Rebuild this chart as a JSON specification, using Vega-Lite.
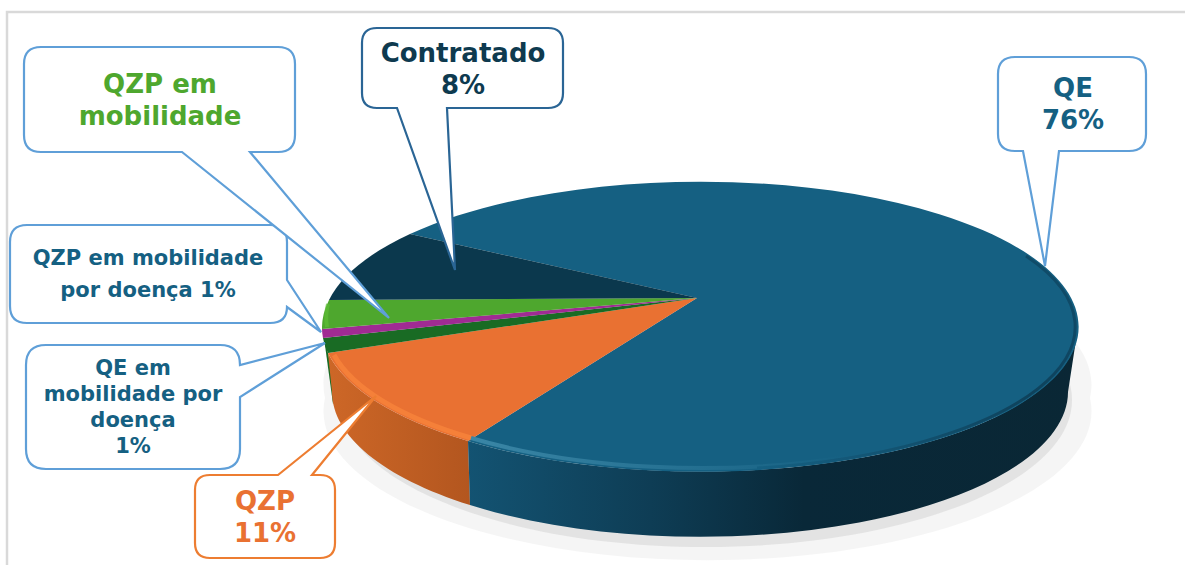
{
"$schema":"https://vega.github.io/schema/vega-lite/v6.json",
"width":1186,"height":566,"padding":0,
"autosize":{"type":"fit","contains":"padding"},
"background":"white",
"config":{"view":{"stroke":null}},
"data":{"values":[
{"ordem":1,"categoria":"QE","pct":76,"rotulo":"QE\n76%"},
{"ordem":2,"categoria":"QZP","pct":11,"rotulo":"QZP\n11%"},
{"ordem":3,"categoria":"QE em mobilidade por doença","pct":1,"rotulo":"QE em\nmobilidade por\ndoença\n1%"},
{"ordem":4,"categoria":"QZP em mobilidade por doença","pct":1,"rotulo":"QZP em mobilidade\npor doença 1%"},
{"ordem":5,"categoria":"QZP em mobilidade","pct":3,"rotulo":"QZP em\nmobilidade"},
{"ordem":6,"categoria":"Contratado","pct":8,"rotulo":"Contratado\n8%"}
]},
"encoding":{
"x":{"field":"ordem","type":"quantitative","axis":null,"scale":{"domain":[1,6],"range":[697,697],"nice":false,"zero":false}},
"y":{"field":"ordem","type":"quantitative","axis":null,"scale":{"domain":[1,6],"range":[298,298],"nice":false,"zero":false}}
},
"layer":[
{"transform":[{"filter":"datum.ordem==1"}],"mark":{"type":"point","filled":false,"size":4,"opacity":1,"stroke":"#d9d9d9","strokeWidth":2.5,"shape":"M-690,267 V-286 H488"}},
{"transform":[{"filter":"datum.ordem==1"}],"mark":{"type":"point","filled":true,"size":4,"opacity":0.4,"fill":"#e6e6e6","strokeWidth":0,"shape":"M-372,100 A384,149 0 1 0 393,100 A384,149 0 1 0 -372,100 Z"}},
{"transform":[{"filter":"datum.ordem==1"}],"mark":{"type":"point","filled":true,"size":4,"opacity":0.7,"fill":"#dcdcdc","strokeWidth":0,"shape":"M-357,102 A366,147 0 1 0 375,102 A366,147 0 1 0 -357,102 Z"}},
{"transform":[{"filter":"datum.ordem==3"}],"mark":{"type":"point","filled":true,"size":4,"opacity":1,"fill":"#196b24","strokeWidth":0,"shape":"M-373,40 L-364,106 L-360,100 L-369,55 Z"}},
{"transform":[{"filter":"datum.ordem==2"}],"mark":{"type":"point","filled":true,"size":4,"opacity":1,"strokeWidth":0,"fill":{"gradient":"linear","x1":0,"y1":0,"x2":1,"y2":0,"stops":[{"offset":0,"color":"#cd6727"},{"offset":1,"color":"#b3561f"}]},"shape":"M-369,55 A378,145 0 0 0 -229,143 L-227,207 A368,145 0 0 1 -365,94 Z"}},
{"transform":[{"filter":"datum.ordem==1"}],"mark":{"type":"point","filled":true,"size":4,"opacity":1,"strokeWidth":0,"fill":{"gradient":"linear","x1":0,"y1":0,"x2":1,"y2":0,"stops":[{"offset":0,"color":"#135372"},{"offset":0.3,"color":"#0e3d55"},{"offset":0.55,"color":"#092838"},{"offset":1,"color":"#0a2735"}]},"shape":"M-229,143 A378,145 0 0 0 381,29 L371,94 A368,145 0 0 1 -227,207 Z"}},
{"mark":{"type":"point","filled":true,"size":4,"opacity":1,"strokeWidth":0},
 "encoding":{
  "shape":{"field":"categoria","type":"nominal","legend":null,"scale":{"domain":["QE","QZP","QE em mobilidade por doença","QZP em mobilidade por doença","QZP em mobilidade","Contratado"],"range":[
   "M0,0 L-287,-64 A378,145 0 1 1 -229,143 Z",
   "M0,0 L-229,143 A378,145 0 0 1 -369,55 Z",
   "M0,0 L-369,55 A378,145 0 0 1 -374,40 Z",
   "M0,0 L-374,40 A378,145 0 0 1 -375,31 Z",
   "M0,0 L-375,31 A378,145 0 0 1 -368,2 Z",
   "M0,0 L-368,2 A378,145 0 0 1 -287,-64 Z"]}},
  "color":{"field":"categoria","type":"nominal","legend":null,"scale":{"domain":["QE","QZP","QE em mobilidade por doença","QZP em mobilidade por doença","QZP em mobilidade","Contratado"],"range":["#156082","#e97132","#196b24","#a02b93","#4ea72e","#0b384d"]}}
 }},
{"transform":[{"filter":"datum.ordem==2"}],"mark":{"type":"point","filled":false,"size":4,"opacity":0.75,"stroke":"#f9853c","strokeWidth":5,"shape":"M-363,57 A374,141 0 0 0 -226,140"}},
{"transform":[{"filter":"datum.ordem==5"}],"mark":{"type":"point","filled":false,"size":4,"opacity":0.7,"stroke":"#5fbe36","strokeWidth":4,"shape":"M-369,6 A372,139 0 0 0 -370,29"}},
{"transform":[{"filter":"datum.ordem==1"}],"mark":{"type":"point","filled":false,"size":4,"opacity":1,"strokeWidth":4,"stroke":{"gradient":"linear","x1":0,"y1":0,"x2":1,"y2":0,"stops":[{"offset":0,"color":"#3a86a6"},{"offset":1,"color":"#156082"}]},"shape":"M-226,140 A374,141 0 0 0 150,159"}},
{"transform":[{"filter":"datum.ordem==1"}],"mark":{"type":"point","filled":false,"size":4,"opacity":0.9,"strokeWidth":3,"stroke":{"gradient":"linear","x1":0,"y1":1,"x2":1,"y2":0,"stops":[{"offset":0,"color":"#156082"},{"offset":0.6,"color":"#0e3f58"},{"offset":1,"color":"#104c6a"}]},"shape":"M329,-42 A376,143 0 0 1 60,170"}},
{"mark":{"type":"point","filled":true,"fill":"white","size":4,"opacity":1,"strokeWidth":2.2},
 "encoding":{
  "x":{"field":"ordem","type":"quantitative","axis":null,"scale":{"domain":[1,2,3,4,5,6],"range":[1073,265,133,148,160,463],"nice":false,"zero":false}},
  "y":{"field":"ordem","type":"quantitative","axis":null,"scale":{"domain":[1,2,3,4,5,6],"range":[97,510,375,265,93,62],"nice":false,"zero":false}},
  "shape":{"field":"categoria","type":"nominal","legend":null,"scale":{"domain":["QE","QZP","QE em mobilidade por doença","QZP em mobilidade por doença","QZP em mobilidade","Contratado"],"range":[
   "M-58,-40 H56 Q73,-40 73,-23 V37 Q73,54 56,54 H-14 L-28,169 L-50,54 H-58 Q-75,54 -75,37 V-23 Q-75,-40 -58,-40 Z",
   "M-55,-35 H13 L111,-114 L47,-35 H55 Q70,-35 70,-20 V33 Q70,48 55,48 H-55 Q-70,48 -70,33 V-20 Q-70,-35 -55,-35 Z",
   "M-87,-30 H87 Q107,-30 107,-10 L192,-32 L107,22 V74 Q107,94 87,94 H-87 Q-107,94 -107,74 V-10 Q-107,-30 -87,-30 Z",
   "M-121,-40 H122 Q139,-40 139,-23 V15 L173,67 L139,42 Q139,58 122,58 H-121 Q-138,58 -138,41 V-23 Q-138,-40 -121,-40 Z",
   "M-119,-46 H118 Q135,-46 135,-29 V42 Q135,59 118,59 H90 L229,225 L22,59 H-119 Q-136,59 -136,42 V-29 Q-136,-46 -119,-46 Z",
   "M-86,-34 H85 Q100,-34 100,-19 V31 Q100,46 85,46 H-16 L-8,208 L-66,46 H-86 Q-101,46 -101,31 V-19 Q-101,-34 -86,-34 Z"]}},
  "stroke":{"field":"categoria","type":"nominal","legend":null,"scale":{"domain":["QE","QZP","QE em mobilidade por doença","QZP em mobilidade por doença","QZP em mobilidade","Contratado"],"range":["#5f9fd8","#ed7d31","#5f9fd8","#5f9fd8","#5f9fd8","#2a6595"]}}
 }},
{"transform":[{"filter":"datum.ordem==1||datum.ordem==2||datum.ordem==5||datum.ordem==6"}],
 "mark":{"type":"text","font":"DejaVu Sans","fontWeight":"bold","fontSize":26,"lineHeight":32,"lineBreak":"\n","align":"center","baseline":"alphabetic"},
 "encoding":{
  "x":{"field":"ordem","type":"quantitative","axis":null,"scale":{"domain":[1,2,3,4,5,6],"range":[1073,265,133,148,160,463],"nice":false,"zero":false}},
  "y":{"field":"ordem","type":"quantitative","axis":null,"scale":{"domain":[1,2,3,4,5,6],"range":[97,510,375,265,93,62],"nice":false,"zero":false}},
  "text":{"field":"rotulo"},
  "fill":{"field":"categoria","type":"nominal","legend":null,"scale":{"domain":["QE","QZP","QE em mobilidade por doença","QZP em mobilidade por doença","QZP em mobilidade","Contratado"],"range":["#156082","#e97132","#156082","#156082","#4ea72e","#0e3a4f"]}}
 }},
{"transform":[{"filter":"datum.ordem==4"}],
 "mark":{"type":"text","font":"DejaVu Sans","fontWeight":"bold","fontSize":21,"lineHeight":32,"lineBreak":"\n","align":"center","baseline":"alphabetic","fill":"#156082"},
 "encoding":{
  "x":{"field":"ordem","type":"quantitative","axis":null,"scale":{"domain":[1,2,3,4,5,6],"range":[1073,265,133,148,160,463],"nice":false,"zero":false}},
  "y":{"field":"ordem","type":"quantitative","axis":null,"scale":{"domain":[1,2,3,4,5,6],"range":[97,510,375,265,93,62],"nice":false,"zero":false}},
  "text":{"field":"rotulo"}
 }},
{"transform":[{"filter":"datum.ordem==3"}],
 "mark":{"type":"text","font":"DejaVu Sans","fontWeight":"bold","fontSize":21,"lineHeight":26,"lineBreak":"\n","align":"center","baseline":"alphabetic","fill":"#156082"},
 "encoding":{
  "x":{"field":"ordem","type":"quantitative","axis":null,"scale":{"domain":[1,2,3,4,5,6],"range":[1073,265,133,148,160,463],"nice":false,"zero":false}},
  "y":{"field":"ordem","type":"quantitative","axis":null,"scale":{"domain":[1,2,3,4,5,6],"range":[97,510,375,265,93,62],"nice":false,"zero":false}},
  "text":{"field":"rotulo"}
 }}
],
"resolve":{"scale":{"x":"independent","y":"independent","shape":"independent"}}
}
